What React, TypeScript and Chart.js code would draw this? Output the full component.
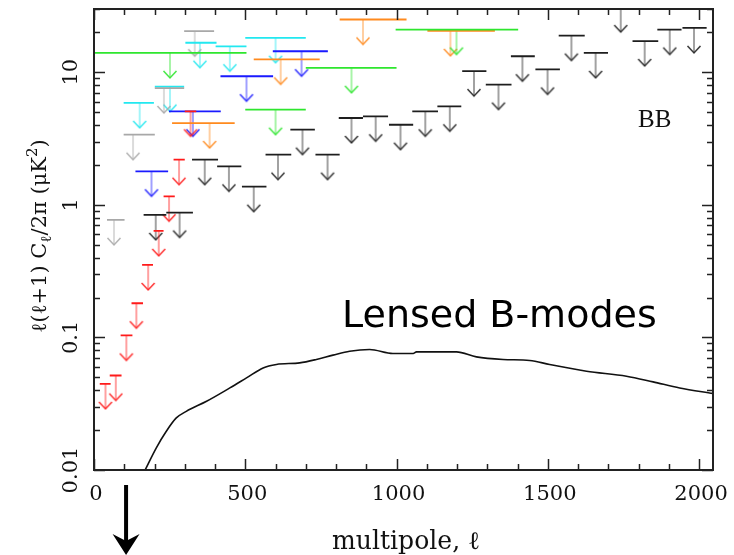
import React, { useEffect, useRef } from "react";
import { Chart, registerables } from "chart.js";

Chart.register(...registerables);

// ---------- Data ----------
// Upper limits per experiment: bin low edge, bin high edge, limit value (µK²), arrow position (ℓ)
const RED_LO = [19, 52, 88, 124, 159, 197, 230, 263, 300];
const RED_HI = [55, 91, 127, 162, 195, 230, 267, 300, 338];
const RED_VAL = [0.0446, 0.0516, 0.1035, 0.181, 0.352, 0.636, 1.16, 2.19, 5.07];
const RED_AT = [38, 72, 107, 140, 179, 214, 248, 281, 319];

const BLUE_LO = [137, 248, 418, 591];
const BLUE_HI = [245, 419, 592, 773];
const BLUE_VAL = [1.79, 5.07, 9.33, 14.4];
const BLUE_AT = [190, 327, 504, 686];

const CYAN_LO = [98, 201, 302, 402, 500];
const CYAN_HI = [198, 298, 405, 504, 700];
const CYAN_VAL = [5.87, 7.8, 16.7, 15.7, 18.2];
const CYAN_AT = [151, 251, 350, 449, 600];

const GREEN_LO = [2, 500, 700, 997];
const GREEN_HI = [504, 700, 1000, 1402];
const GREEN_VAL = [14.0, 5.22, 10.8, 21.0];
const GREEN_AT = [251, 600, 851, 1198];

const ORANGE_LO = [258, 528, 812, 1102];
const ORANGE_HI = [465, 746, 1033, 1325];
const ORANGE_VAL = [4.14, 12.5, 25.0, 20.5];
const ORANGE_AT = [382, 617, 889, 1178];

const GRAY_LO = [43, 98, 201, 298];
const GRAY_HI = [101, 201, 298, 397];
const GRAY_VAL = [0.77, 3.38, 7.6, 20.4];
const GRAY_AT = [66, 129, 231, 333];

const BLACK_LO = [164, 239, 324, 407, 489, 567, 649, 732, 809, 889, 975, 1052, 1135, 1217, 1295, 1378, 1459, 1536, 1619, 1700, 1780, 1862, 1945];
const BLACK_HI = [239, 327, 410, 487, 570, 652, 730, 812, 889, 972, 1055, 1137, 1214, 1297, 1380, 1457, 1540, 1622, 1699, 1780, 1865, 1942, 2025];
const BLACK_VAL = [0.84, 0.875, 2.19, 1.95, 1.37, 2.39, 3.69, 2.39, 4.52, 4.65, 4.02, 5.07, 5.53, 10.2, 8.07, 13.2, 10.5, 18.9, 14.0, 31.0, 17.2, 21.0, 21.6];
const BLACK_AT = [204, 283, 366, 446, 528, 608, 689, 772, 851, 931, 1013, 1095, 1176, 1256, 1337, 1416, 1499, 1578, 1658, 1741, 1820, 1903, 1983];

// Lensed B-mode spectrum
const LENS_ELL = [168, 206, 239, 272, 305, 372, 449, 504, 559, 603, 680, 735, 790, 845, 911, 988, 1055, 1066, 1198, 1264, 1352, 1440, 1506, 1628, 1760, 1848, 1936, 2046];
const LENS_VAL = [0.0099, 0.0147, 0.0196, 0.0247, 0.0277, 0.033, 0.0416, 0.0495, 0.0589, 0.0625, 0.0643, 0.0682, 0.0735, 0.0787, 0.0811, 0.0757, 0.0757, 0.0778, 0.0778, 0.0713, 0.0682, 0.067, 0.0625, 0.0556, 0.051, 0.0462, 0.0416, 0.0378];

// Axes
const X_MIN = 0;
const X_MAX = 2046;
const Y_MIN = 0.01;
const Y_MAX = 30;
const X_TICKS = [0, 500, 1000, 1500, 2000];
const X_TICK_LABELS = ["0", "500", "1000", "1500", "2000"];
const Y_TICKS = [0.01, 0.1, 1, 10];
const Y_TICK_LABELS = ["0.01", "0.1", "1", "10"];
const X_TITLE = "multipole, ℓ";
const Y_TITLE_PARTS = ["ℓ(ℓ+1) C", "ℓ", "/2π (μK", "2", ")"];
const LABEL_BB = "BB";
const LABEL_LENSED = "Lensed B-modes";
const POINTER_ELL = 106;

// ---------- Styles ----------
const SERIF = '"DejaVu Serif", "Liberation Serif", serif';
const ARROW_LEN = 25;

function makeArrow(color: string): HTMLCanvasElement {
  const c = document.createElement("canvas");
  const w = 16;
  const h = 2 * (ARROW_LEN + 3);
  c.width = w;
  c.height = h;
  const g = c.getContext("2d")!;
  const cx = w / 2;
  const cy = h / 2;
  g.strokeStyle = color;
  g.lineWidth = 1.5;
  g.globalAlpha = 0.55;
  g.beginPath();
  g.moveTo(cx, cy);
  g.lineTo(cx, cy + ARROW_LEN);
  g.stroke();
  g.globalAlpha = 0.9;
  g.beginPath();
  g.moveTo(cx - 6.5, cy + ARROW_LEN - 7);
  g.lineTo(cx, cy + ARROW_LEN);
  g.lineTo(cx + 6.5, cy + ARROW_LEN - 7);
  g.stroke();
  return c;
}

const EXPERIMENTS = [
  { name: "gray", color: "#a8a8a8", lo: GRAY_LO, hi: GRAY_HI, val: GRAY_VAL, at: GRAY_AT },
  { name: "red", color: "#ff1a1a", lo: RED_LO, hi: RED_HI, val: RED_VAL, at: RED_AT },
  { name: "blue", color: "#1a1aff", lo: BLUE_LO, hi: BLUE_HI, val: BLUE_VAL, at: BLUE_AT },
  { name: "cyan", color: "#22e8f0", lo: CYAN_LO, hi: CYAN_HI, val: CYAN_VAL, at: CYAN_AT },
  { name: "green", color: "#2ee62e", lo: GREEN_LO, hi: GREEN_HI, val: GREEN_VAL, at: GREEN_AT },
  { name: "orange", color: "#ff8a1e", lo: ORANGE_LO, hi: ORANGE_HI, val: ORANGE_VAL, at: ORANGE_AT },
  { name: "black", color: "#1e1e1e", lo: BLACK_LO, hi: BLACK_HI, val: BLACK_VAL, at: BLACK_AT },
];

const framePlugin = {
  id: "frameAndText",
  afterDraw(chart: any) {
    const { ctx, chartArea: a, scales } = chart;
    const xs = scales.x;
    const ys = scales.y;
    ctx.save();

    // frame
    ctx.strokeStyle = "#222";
    ctx.lineWidth = 2;
    ctx.strokeRect(a.left, a.top, a.right - a.left, a.bottom - a.top);

    // inward ticks
    ctx.lineWidth = 1.5;
    ctx.beginPath();
    for (let v = 0; v <= 2000; v += 100) {
      const px = Math.round(xs.getPixelForValue(v)) + 0.5;
      const len = v % 500 === 0 ? 11 : 6;
      ctx.moveTo(px, a.bottom);
      ctx.lineTo(px, a.bottom - len);
      ctx.moveTo(px, a.top);
      ctx.lineTo(px, a.top + len);
    }
    for (const d of Y_TICKS) {
      for (let m = 1; m <= 9; m++) {
        const v = d * m;
        if (v > Y_MAX) continue;
        const py = Math.round(ys.getPixelForValue(v)) + 0.5;
        const len = m === 1 ? 11 : 6;
        ctx.moveTo(a.left, py);
        ctx.lineTo(a.left + len, py);
        ctx.moveTo(a.right, py);
        ctx.lineTo(a.right - len, py);
      }
    }
    ctx.stroke();

    ctx.fillStyle = "#111";
    // x tick labels
    ctx.font = `21px ${SERIF}`;
    ctx.textAlign = "center";
    ctx.textBaseline = "alphabetic";
    X_TICKS.forEach((v, i) => {
      ctx.fillText(X_TICK_LABELS[i], xs.getPixelForValue(v) + 2, 500);
    });
    // y tick labels (rotated)
    Y_TICKS.forEach((v, i) => {
      ctx.save();
      ctx.translate(77, ys.getPixelForValue(v));
      ctx.rotate(-Math.PI / 2);
      ctx.fillText(Y_TICK_LABELS[i], 0, 0);
      ctx.restore();
    });

    // x title
    ctx.font = `24px ${SERIF}`;
    const xw = ctx.measureText(X_TITLE).width;
    const xsize = (24 * 148) / xw;
    ctx.font = `${xsize.toFixed(1)}px ${SERIF}`;
    ctx.textAlign = "left";
    ctx.fillText(X_TITLE, 332, 549);

    // y title (rotated, with sub/superscripts)
    const fs = 21;
    const small = 15;
    const sizes = [fs, small, fs, small, fs];
    const shifts = [0, 5, 0, -9, 0];
    let total = 0;
    const widths = Y_TITLE_PARTS.map((t, i) => {
      ctx.font = `${sizes[i]}px ${SERIF}`;
      const w = ctx.measureText(t).width;
      total += w;
      return w;
    });
    ctx.save();
    ctx.translate(46, 236);
    ctx.rotate(-Math.PI / 2);
    ctx.textAlign = "left";
    let cx = -total / 2;
    Y_TITLE_PARTS.forEach((t, i) => {
      ctx.font = `${sizes[i]}px ${SERIF}`;
      ctx.fillText(t, cx, shifts[i]);
      cx += widths[i];
    });
    ctx.restore();

    // BB label
    ctx.font = `25px "Liberation Serif", serif`;
    ctx.fillStyle = "#111";
    ctx.fillText(LABEL_BB, 638, 127);

    // Lensed B-modes label
    ctx.font = `40px "Comic Sans MS", "DejaVu Sans", sans-serif`;
    const lw = ctx.measureText(LABEL_LENSED).width;
    const lsize = (40 * 315) / lw;
    ctx.font = `${lsize.toFixed(1)}px "Comic Sans MS", "DejaVu Sans", sans-serif`;
    ctx.fillStyle = "#000";
    ctx.fillText(LABEL_LENSED, 342, 327);

    // pointer arrow below the axis
    const ax = xs.getPixelForValue(POINTER_ELL);
    ctx.strokeStyle = "#000";
    ctx.lineWidth = 4;
    ctx.beginPath();
    ctx.moveTo(ax, 485);
    ctx.lineTo(ax, 545);
    ctx.stroke();
    ctx.beginPath();
    ctx.moveTo(ax, 555);
    ctx.lineTo(ax - 13.5, 534);
    ctx.lineTo(ax, 541);
    ctx.lineTo(ax + 13.5, 534);
    ctx.closePath();
    ctx.fillStyle = "#000";
    ctx.fill();

    ctx.restore();
  },
};

export default function App() {
  const ref = useRef<HTMLCanvasElement | null>(null);

  useEffect(() => {
    document.body.style.margin = "0";
    document.body.style.overflow = "hidden";
    const canvas = ref.current;
    if (!canvas) return;

    const datasets: any[] = [];
    for (const e of EXPERIMENTS) {
      const bars: any[] = [];
      e.lo.forEach((lo, i) => {
        bars.push({ x: lo, y: e.val[i] });
        bars.push({ x: e.hi[i], y: e.val[i] });
        bars.push({ x: e.hi[i], y: null });
      });
      datasets.push({
        type: "line",
        label: e.name + " bins",
        data: bars,
        borderColor: e.color,
        borderWidth: 1.8,
        pointRadius: 0,
        spanGaps: false,
        tension: 0,
        order: 2,
      });
      datasets.push({
        type: "scatter",
        label: e.name + " limits",
        data: e.at.map((x, i) => ({ x, y: e.val[i] })),
        pointStyle: makeArrow(e.color),
        pointRadius: 3,
        pointHoverRadius: 3,
        borderWidth: 0,
        showLine: false,
        order: 3,
      });
    }
    datasets.push({
      type: "line",
      label: "Lensed B-modes",
      data: LENS_ELL.map((x, i) => ({ x, y: LENS_VAL[i] })),
      borderColor: "#111",
      borderWidth: 1.6,
      pointRadius: 0,
      cubicInterpolationMode: "monotone",
      order: 1,
    });

    const chart = new Chart(canvas, {
      type: "scatter",
      data: { datasets },
      options: {
        animation: false,
        responsive: false,
        devicePixelRatio: 1,
        events: [],
        layout: { padding: { left: 94, right: 21, top: 9, bottom: 85 } },
        plugins: {
          legend: { display: false },
          tooltip: { enabled: false },
        },
        scales: {
          x: { type: "linear", min: X_MIN, max: X_MAX, display: false },
          y: { type: "logarithmic", min: Y_MIN, max: Y_MAX, display: false },
        },
      },
      plugins: [framePlugin],
    } as any);

    return () => chart.destroy();
  }, []);

  return (
    <div style={{ width: 734, height: 555, background: "#fff" }}>
      <canvas ref={ref} width={734} height={555} style={{ display: "block" }} />
    </div>
  );
}
